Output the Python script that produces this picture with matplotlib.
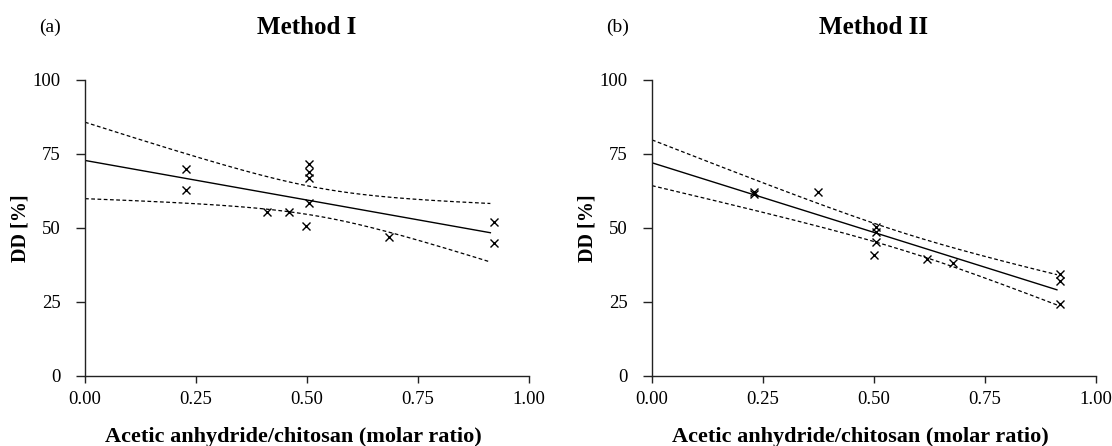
import numpy as np
import matplotlib
matplotlib.use("Agg")
import matplotlib.pyplot as plt

plt.rcParams["font.family"] = ["Liberation Serif", "DejaVu Serif"]

# Method I: acetic anhydride/chitosan molar ratio vs degree of deacetylation
ratio_1 = [0.228, 0.228, 0.411, 0.459, 0.497, 0.504, 0.504, 0.504, 0.504, 0.685, 0.921, 0.921]
dd_1 = [69.8, 62.8, 55.5, 55.3, 50.6, 71.5, 69.0, 66.8, 58.3, 47.1, 52.1, 44.8]

# Method II
ratio_2 = [0.229, 0.229, 0.374, 0.499, 0.505, 0.505, 0.505, 0.619, 0.678, 0.920, 0.920, 0.920]
dd_2 = [62.0, 61.5, 62.2, 41.0, 50.3, 48.6, 45.2, 39.6, 38.3, 34.5, 32.0, 24.4]

x_ticks = [0.0, 0.25, 0.5, 0.75, 1.0]
y_ticks = [0, 25, 50, 75, 100]

# two-sided 95% t quantiles
T975 = {8: 2.306, 9: 2.262, 10: 2.228, 11: 2.201, 12: 2.179}


def fit_band(x, y):
    """Least-squares line with 95% confidence band of the mean."""
    x = np.asarray(x)
    y = np.asarray(y)
    n = len(x)
    slope, icpt = np.polyfit(x, y, 1)
    resid = y - (icpt + slope * x)
    s = np.sqrt(np.sum(resid ** 2) / (n - 2))
    sxx = np.sum((x - x.mean()) ** 2)
    xs = np.linspace(0, x.max() - 0.008, 200)
    yhat = icpt + slope * xs
    half = T975[n - 2] * s * np.sqrt(1 / n + (xs - x.mean()) ** 2 / sxx)
    return xs, yhat, yhat - half, yhat + half


def draw_panel(ax, x, y, title, tag):
    xs, yhat, lo, hi = fit_band(x, y)
    ax.plot(xs, yhat, color="k", lw=1.0)
    ax.plot(xs, lo, color="k", lw=0.9, dashes=(3, 2))
    ax.plot(xs, hi, color="k", lw=0.9, dashes=(3, 2))
    ax.plot(x, y, "x", color="k", ms=5.5, mew=1.0)

    ax.set_xlim(0, 1)
    ax.set_ylim(0, 100)
    ax.set_xticks(x_ticks)
    ax.set_xticklabels([f"{v:.2f}" for v in x_ticks])
    ax.set_yticks(y_ticks)
    for side in ["top", "right"]:
        ax.spines[side].set_visible(False)
    for side in ["left", "bottom"]:
        ax.spines[side].set_linewidth(1.0)
        ax.spines[side].set_color("#222222")
    ax.tick_params(axis="y", length=6.5, width=1.0, pad=11, labelsize=13.5, color="#222222")
    ax.tick_params(axis="x", length=5, width=1.0, pad=6, labelsize=13.5, color="#222222")

    ax.set_xlabel("Acetic anhydride/chitosan (molar ratio)", fontsize=16, fontweight="bold",
                  va="center")
    ax.xaxis.set_label_coords(0.47, -0.205)
    ax.set_ylabel("DD [%]", fontsize=14.5, fontweight="bold")
    ax.yaxis.set_label_coords(-0.122, 0.5)

    ax.set_title(title, fontsize=18, fontweight="bold", pad=33)
    ax.text(-0.104, 1.179, tag, transform=ax.transAxes, fontsize=14, va="center", ha="left")


fig = plt.figure(figsize=(11.12, 4.46), dpi=100)
ax1 = fig.add_axes([85 / 1112, 70 / 446, 444 / 1112, 296 / 446])
ax2 = fig.add_axes([652 / 1112, 70 / 446, 444 / 1112, 296 / 446])

draw_panel(ax1, ratio_1, dd_1, "Method I", "(a)")
draw_panel(ax2, ratio_2, dd_2, "Method II", "(b)")

fig.savefig("out.png", dpi=100)
